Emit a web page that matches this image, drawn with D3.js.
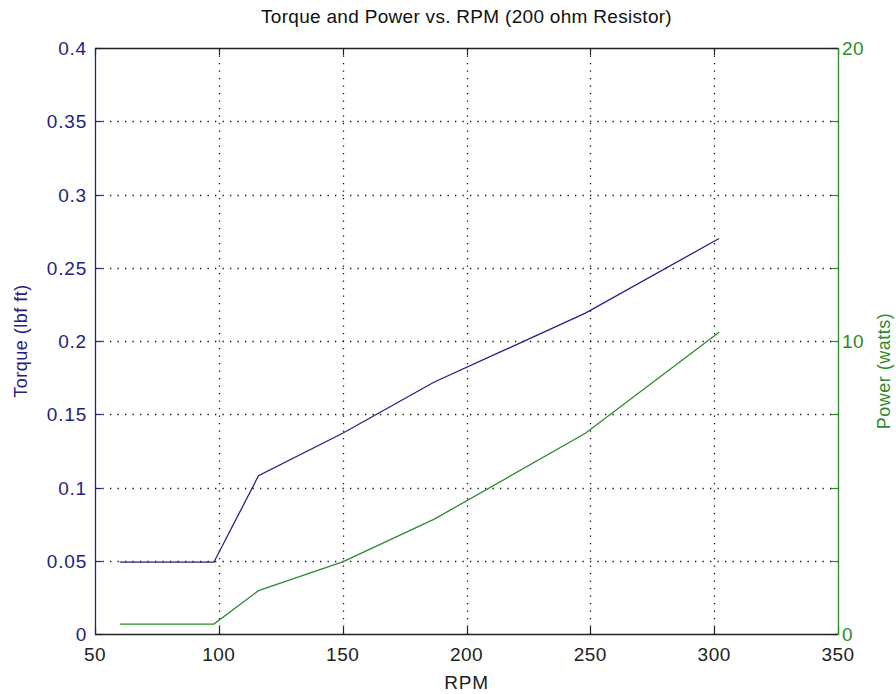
<!DOCTYPE html>
<html>
<head>
<meta charset="utf-8">
<script src="https://cdn.jsdelivr.net/npm/d3@7"></script>
<style>
  html, body { margin: 0; padding: 0; background: #ffffff; }
  svg { display: block; }
  text { font-family: "Liberation Sans", Arial, sans-serif; }
</style>
</head>
<body>
<svg id="chart" width="896" height="694"></svg>
<script>
// ---- data ----
const rpm = [60, 98, 116, 150, 187, 248, 302];
const torque = [0.049, 0.049, 0.108, 0.137, 0.172, 0.219, 0.270];
const power = [0.34, 0.34, 1.48, 2.46, 3.92, 6.85, 10.3];
const xTicks = [50, 100, 150, 200, 250, 300, 350];
const torqueTicks = [0, 0.05, 0.1, 0.15, 0.2, 0.25, 0.3, 0.35, 0.4];
const torqueTickLabels = ["0", "0.05", "0.1", "0.15", "0.2", "0.25", "0.3", "0.35", "0.4"];
const powerTickMarks = [0, 2.5, 5, 7.5, 10, 12.5, 15, 17.5, 20];
const powerTickLabels = [0, 10, 20];
const titleText = "Torque and Power vs. RPM (200 ohm Resistor)";
const xLabel = "RPM";
const yLeftLabel = "Torque (lbf ft)";
const yRightLabel = "Power (watts)";

// ---- layout ----
const L = 95, R = 838, T = 48, B = 634;
const blue = "#23237f", green = "#2e8a2e", dark = "#222222";
const svg = d3.select("#chart");

const x = d3.scaleLinear().domain([50, 350]).range([L, R]);
const yT = d3.scaleLinear().domain([0, 0.4]).range([B, T]);
const yP = d3.scaleLinear().domain([0, 20]).range([B, T]);

// grid
const grid = svg.append("g").attr("stroke", "#111").attr("stroke-width", 1.3)
  .attr("stroke-dasharray", "1.3,6.2");
xTicks.filter(d => d > 50 && d < 350).forEach(d => {
  grid.append("line").attr("x1", Math.round(x(d)) + 0.5).attr("x2", Math.round(x(d)) + 0.5)
    .attr("y1", T).attr("y2", B);
});
torqueTicks.filter(d => d > 0 && d < 0.4).forEach(d => {
  grid.append("line").attr("y1", Math.round(yT(d)) + 0.5).attr("y2", Math.round(yT(d)) + 0.5)
    .attr("x1", L).attr("x2", R);
});

// tick marks
const tk = 7;
const ticks = svg.append("g").attr("stroke-width", 1.2);
xTicks.forEach(d => {
  const px = Math.round(x(d)) + 0.5;
  ticks.append("line").attr("x1", px).attr("x2", px).attr("y1", B).attr("y2", B - tk).attr("stroke", dark);
  ticks.append("line").attr("x1", px).attr("x2", px).attr("y1", T).attr("y2", T + tk).attr("stroke", dark);
});
torqueTicks.forEach(d => {
  const py = Math.round(yT(d)) + 0.5;
  ticks.append("line").attr("x1", L).attr("x2", L + tk).attr("y1", py).attr("y2", py).attr("stroke", blue);
});
powerTickMarks.forEach(d => {
  const py = Math.round(yP(d)) + 0.5;
  ticks.append("line").attr("x1", R).attr("x2", R - tk).attr("y1", py).attr("y2", py).attr("stroke", green);
});

// box
svg.append("line").attr("x1", L).attr("x2", R).attr("y1", B + 0.5).attr("y2", B + 0.5).attr("stroke", dark).attr("stroke-width", 1.3);
svg.append("line").attr("x1", L).attr("x2", R).attr("y1", T + 0.5).attr("y2", T + 0.5).attr("stroke", dark).attr("stroke-width", 1.3);
svg.append("line").attr("x1", L + 0.5).attr("x2", L + 0.5).attr("y1", T).attr("y2", B + 1).attr("stroke", blue).attr("stroke-width", 1.3);
svg.append("line").attr("x1", R + 0.5).attr("x2", R + 0.5).attr("y1", T).attr("y2", B + 1).attr("stroke", green).attr("stroke-width", 1.3);

// data lines
const lineT = d3.line().x((d, i) => x(rpm[i])).y(d => yT(d));
const lineP = d3.line().x((d, i) => x(rpm[i])).y(d => yP(d));
svg.append("path").attr("d", lineT(torque)).attr("fill", "none").attr("stroke", blue).attr("stroke-width", 1.3);
svg.append("path").attr("d", lineP(power)).attr("fill", "none").attr("stroke", green).attr("stroke-width", 1.3);

// tick labels
const fs = 19;
xTicks.forEach(d => {
  svg.append("text").attr("x", x(d)).attr("y", 661).attr("text-anchor", "middle")
    .attr("font-size", fs).attr("fill", dark).attr("letter-spacing", 0.5).text(d);
});
torqueTicks.forEach((d, i) => {
  svg.append("text").attr("x", 87).attr("y", yT(d) + 7).attr("text-anchor", "end")
    .attr("font-size", fs).attr("fill", blue).attr("letter-spacing", 0.8).text(torqueTickLabels[i]);
});
powerTickLabels.forEach(d => {
  svg.append("text").attr("x", 842).attr("y", yP(d) + 7).attr("text-anchor", "start")
    .attr("font-size", fs).attr("fill", green).attr("letter-spacing", 0.5).text(d);
});

// titles
svg.append("text").attr("x", (L + R) / 2).attr("y", 23).attr("text-anchor", "middle")
  .attr("font-size", 19).attr("fill", "#111").attr("letter-spacing", 0.3).text(titleText);
svg.append("text").attr("x", (L + R) / 2).attr("y", 689).attr("text-anchor", "middle")
  .attr("font-size", fs).attr("fill", dark).attr("letter-spacing", 0.8).text(xLabel);
svg.append("text").attr("transform", `translate(27,${(T + B) / 2}) rotate(-90)`).attr("text-anchor", "middle")
  .attr("font-size", 18).attr("fill", blue).attr("letter-spacing", 0.5).text(yLeftLabel);
svg.append("text").attr("transform", `translate(890,${(T + B) / 2 + 30}) rotate(-90)`).attr("text-anchor", "middle")
  .attr("font-size", 18).attr("fill", green).attr("letter-spacing", 0.5).text(yRightLabel);
</script>
</body>
</html>
